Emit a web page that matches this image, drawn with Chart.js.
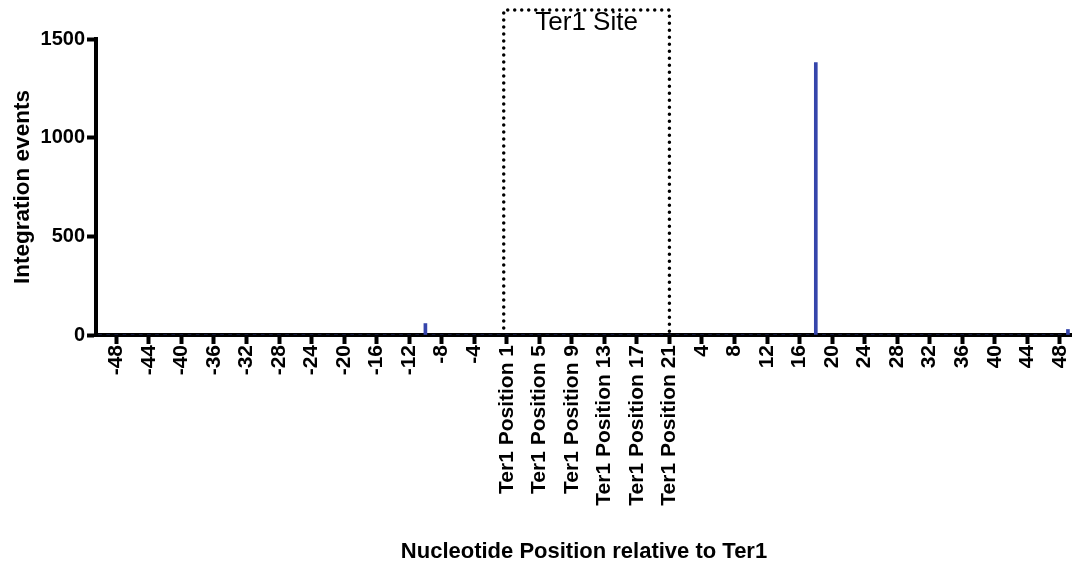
<!DOCTYPE html>
<html>
<head>
<meta charset="utf-8">
<script src="https://cdn.jsdelivr.net/npm/chart.js@4/dist/chart.umd.min.js"></script>
<style>
  html, body { margin: 0; padding: 0; background: #fff; overflow: hidden; }
</style>
</head>
<body>
<canvas id="integration-chart" width="1072" height="567"></canvas>
<script>
// categories: upstream flank, the 21 nt Ter1 site, downstream flank
const upstreamPositions = [];
for (let i = -50; i <= -1; i++) upstreamPositions.push(String(i));
const ter1Positions = [];
for (let i = 1; i <= 21; i++) ter1Positions.push('Ter1 Position ' + i);
const downstreamPositions = [];
for (let i = 1; i <= 49; i++) downstreamPositions.push(String(i));

const positions = upstreamPositions.concat(ter1Positions, downstreamPositions);

// only these positions had any integration events, the rest are zero
const eventPositions = ['-10', '18', '49'];
const eventCounts = [58, 1380, 28];

const yTicks = [0, 500, 1000, 1500];

const integrationEvents = positions.map(p => {
    const k = eventPositions.indexOf(p);
    return k >= 0 ? eventCounts[k] : 0;
});

const FONT = "'Liberation Sans', Arial, sans-serif";
const SITE_TOP = 1647;

function isLabelled(index) {
    return index % 4 === 2;
}

// dotted box around the Ter1 site with its caption
const ter1SiteBox = {
    id: 'ter1SiteBox',
    afterDraw(chart) {
        const ctx = chart.ctx;
        const x = chart.scales.x;
        const y = chart.scales.y;
        const left = x.getPixelForValue(positions.indexOf(ter1Positions[0])) - 3;
        const right = x.getPixelForValue(positions.indexOf(ter1Positions[ter1Positions.length - 1]));
        const top = y.getPixelForValue(SITE_TOP);
        const bottom = y.getPixelForValue(0);

        ctx.save();
        ctx.strokeStyle = '#000';
        ctx.lineWidth = 3.5;
        ctx.lineCap = 'round';
        ctx.setLineDash([0, 7]);
        ctx.beginPath();
        ctx.moveTo(left, bottom);
        ctx.lineTo(left, top);
        ctx.lineTo(right, top);
        ctx.lineTo(right, bottom);
        ctx.stroke();
        ctx.setLineDash([]);

        ctx.fillStyle = '#000';
        ctx.font = '26px ' + FONT;
        ctx.textAlign = 'center';
        ctx.textBaseline = 'middle';
        ctx.fillText('Ter1 Site', (left + right) / 2, top + 13);
        ctx.restore();
    }
};

const ctx = document.getElementById('integration-chart').getContext('2d');

new Chart(ctx, {
    type: 'bar',
    data: {
        labels: positions,
        datasets: [{
            data: integrationEvents,
            backgroundColor: '#3545ab',
            barThickness: 3,
        }]
    },
    plugins: [ter1SiteBox],
    options: {
        responsive: false,
        animation: false,
        layout: { padding: { top: 39, left: 0, right: 0, bottom: 0 } },
        plugins: {
            legend: { display: false },
            tooltip: { enabled: false }
        },
        scales: {
            x: {
                offset: true,
                border: { color: '#000', width: 4 },
                grid: {
                    offset: false,
                    drawOnChartArea: false,
                    drawTicks: true,
                    tickLength: 9,
                    tickWidth: 4,
                    tickColor: c => isLabelled(c.index) ? '#000' : 'rgba(0,0,0,0)'
                },
                ticks: {
                    autoSkip: false,
                    minRotation: 90,
                    maxRotation: 90,
                    padding: 1,
                    color: '#000',
                    font: { family: FONT, size: 21, weight: 'bold' },
                    callback: (value, index) => isLabelled(index) ? positions[index] : ''
                },
                title: {
                    display: true,
                    text: 'Nucleotide Position relative to Ter1',
                    color: '#000',
                    font: { family: FONT, size: 22, weight: 'bold' },
                    padding: { top: 0, bottom: 2 }
                },
                afterFit(scale) {
                    scale.height = 232;
                    scale.paddingLeft = 0;
                    scale.paddingRight = 0;
                }
            },
            y: {
                min: 0,
                max: 1500,
                border: { color: '#000', width: 4 },
                grid: {
                    drawOnChartArea: false,
                    drawTicks: true,
                    tickLength: 9,
                    tickWidth: 4,
                    tickColor: '#000'
                },
                afterBuildTicks(scale) {
                    scale.ticks = yTicks.map(v => ({ value: v }));
                },
                ticks: {
                    padding: 2,
                    color: '#000',
                    font: { family: FONT, size: 20, weight: 'bold' },
                    callback: value => String(value)
                },
                title: {
                    display: true,
                    text: 'Integration events',
                    color: '#000',
                    font: { family: FONT, size: 22.5, weight: 'bold' },
                    padding: { top: 9, bottom: 0 }
                },
                afterFit(scale) {
                    scale.width = 96;
                    scale.paddingTop = 0;
                    scale.paddingBottom = 0;
                }
            }
        }
    }
});
</script>
</body>
</html>
